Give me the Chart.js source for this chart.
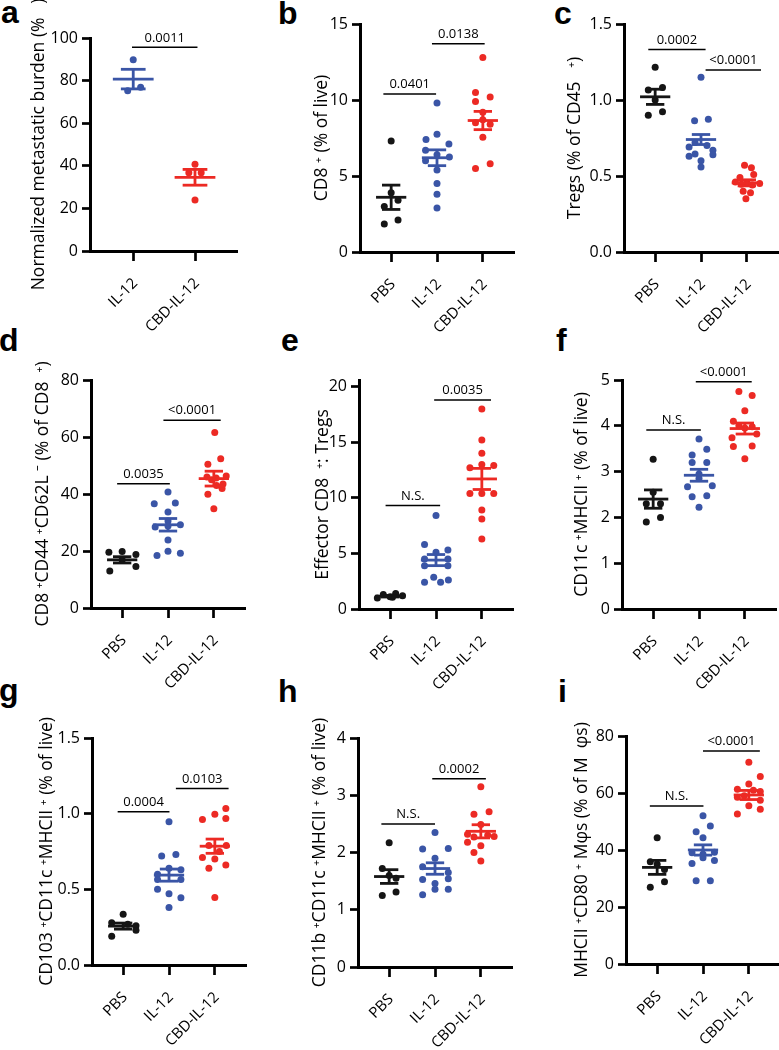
<!DOCTYPE html>
<html>
<head>
<meta charset="utf-8">
<script src="https://cdn.jsdelivr.net/npm/chart.js@4.4.1/dist/chart.umd.min.js"></script>
<style>
  html, body { margin: 0; padding: 0; background: #fff; width: 779px; height: 1050px; overflow: hidden; position: relative; }
  canvas { position: absolute; }
  .tag { position: absolute; font: bold 32px "Liberation Sans", Arial, sans-serif; line-height: 32px; color: #000; }
</style>
</head>
<body>
<div class="tag" style="left:1px;top:-4px">a</div>
<div class="tag" style="left:278px;top:-3px">b</div>
<div class="tag" style="left:554px;top:-3px">c</div>
<div class="tag" style="left:-1px;top:324px">d</div>
<div class="tag" style="left:281px;top:324px">e</div>
<div class="tag" style="left:556px;top:324px">f</div>
<div class="tag" style="left:-1px;top:674px">g</div>
<div class="tag" style="left:278px;top:675px">h</div>
<div class="tag" style="left:558px;top:675px">i</div>

<script>
// groups
const groups3 = ['PBS', 'IL-12', 'CBD-IL-12'];
const groups2 = ['IL-12', 'CBD-IL-12'];

// a - metastatic burden
const aTicks = [0, 20, 40, 60, 80, 100];
const aIL12 = [89.8, 76.9, 75.2];
const aIL12Jit = [0, 0.12, -0.09];
const aCBD = [40.7, 36.7, 36.7, 23.9];
const aCBDJit = [0, -0.1, 0.1, 0];
const aMean = [80.7, 34.6];
const aSem = [4.6, 3.7];
const aSig = [[0.98, 2.04, 95.6, '0.0011']];

// b - CD8+
const bTicks = [0, 5, 10, 15];
const bPBS = [7.3, 3.9, 3.4, 3.0, 2.1, 1.85];
const bPBSJit = [0, 0, 0.15, -0.15, 0.15, -0.15];
const bIL12 = [9.8, 7.75, 7.4, 7.1, 6.7, 6.4, 6.25, 6.0, 5.4, 4.5, 3.8, 2.9];
const bIL12Jit = [0, 0, -0.24, 0.26, -0.25, 0, 0.27, -0.25, 0, 0, 0, 0];
const bCBD = [12.8, 10.5, 10.2, 9.9, 9.2, 8.7, 8.5, 8.4, 7.55, 5.8, 5.5];
const bCBDJit = [0, -0.16, 0.16, -0.16, 0, 0, -0.16, 0.16, 0, 0.16, -0.16];
const bMean = [3.6, 6.2, 8.65];
const bSem = [0.8, 0.52, 0.6];
const bSig = [[0.83, 1.98, 10.4, '0.0401'], [1.89, 3.04, 13.7, '0.0138']];

// c - Tregs
const cTicks = [0, 0.5, 1, 1.5];
const cTickLabels = ['0.0', '0.5', '1.0', '1.5'];
const cPBS = [1.215, 1.083, 1.065, 1.0, 0.922, 0.9];
const cPBSJit = [0, 0.16, -0.15, 0, 0.16, -0.15];
const cIL12 = [1.15, 0.874, 0.863, 0.72, 0.70, 0.69, 0.67, 0.645, 0.64, 0.63, 0.6, 0.56];
const cIL12Jit = [0, 0.16, -0.14, -0.13, 0.13, -0.26, 0.26, -0.13, 0.26, -0.26, 0, 0];
const cCBD = [0.57, 0.555, 0.51, 0.49, 0.46, 0.455, 0.45, 0.445, 0.44, 0.40, 0.39, 0.35];
const cCBDJit = [-0.05, 0.1, 0.15, -0.15, -0.25, 0, 0.28, -0.12, 0.12, -0.08, 0.08, -0.02];
const cMean = [1.021, 0.74, 0.455];
const cSem = [0.05, 0.033, 0.02];
const cSig = [[0.85, 2.1, 1.333, '0.0002'], [2.1, 3.31, 1.197, '<0.0001']];

// d - effector CD8
const dTicks = [0, 20, 40, 60, 80];
const dPBS = [19.6, 19.8, 18.8, 16.8, 14.6, 13.0];
const dPBSJit = [-0.29, 0, 0.3, 0, 0.3, -0.27];
const dIL12 = [40.7, 36.6, 36.8, 33.7, 30.5, 29.2, 28.8, 28.4, 23.9, 19.9, 19.2, 18.4];
const dIL12Jit = [0, -0.3, 0.16, 0, 0, 0.27, 0, -0.28, 0, 0, 0.27, -0.24];
const dCBD = [61.6, 52.4, 50.4, 46.3, 46.0, 45.6, 45.0, 43.5, 43.0, 41.9, 39.9, 34.8];
const dCBDJit = [0.02, 0.15, -0.13, 0.27, -0.15, 0.05, -0.05, 0.2, 0.06, 0.18, -0.13, 0];
const dMean = [16.9, 29.2, 45.4];
const dSem = [1.1, 2.2, 2.6];
const dSig = [[0.89, 2.04, 43.6, '0.0035'], [1.9, 3.15, 65.9, '<0.0001']];

// e - effector CD8 : Tregs
const eTicks = [0, 5, 10, 15, 20];
const ePBS = [1.0, 1.3, 1.1, 1.4, 1.2, 1.05];
const ePBSJit = [-0.28, -0.15, 0, 0.12, 0.27, 0.05];
const eIL12 = [8.4, 5.8, 5.1, 5.3, 4.5, 4.5, 3.9, 3.9, 2.85, 2.4, 2.4, 2.6];
const eIL12Jit = [0, -0.25, 0, 0.26, -0.25, 0.26, -0.25, 0.26, -0.05, -0.25, 0.1, 0.27];
const eCBD = [18.0, 15.2, 14.0, 13.0, 12.9, 12.7, 10.4, 10.4, 10.4, 8.9, 8.1, 6.3];
const eCBDJit = [0, 0, 0, 0, 0.26, -0.26, -0.26, 0, 0.26, 0, 0, 0];
const eMean = [1.15, 4.4, 11.7];
const eSem = [0.07, 0.5, 0.95];
const eSig = [[0.9, 2.09, 9.3, 'N.S.'], [1.96, 3.2, 18.8, '0.0035']];

// f - CD11c+MHCII+
const fTicks = [0, 1, 2, 3, 4, 5];
const fPBS = [3.27, 2.55, 2.3, 2.3, 2.0, 1.9];
const fPBSJit = [0, 0, -0.15, 0.16, 0.16, -0.15];
const fIL12 = [3.71, 3.49, 3.36, 3.2, 3.2, 2.95, 2.85, 2.69, 2.67, 2.47, 2.45, 2.22];
const fIL12Jit = [0, 0.17, -0.15, -0.15, 0.17, 0, 0, 0.29, -0.25, 0.17, -0.15, 0];
const fCBD = [4.75, 4.66, 4.33, 4.1, 4.0, 3.98, 3.95, 3.82, 3.74, 3.56, 3.55, 3.28];
const fCBDJit = [-0.13, 0.16, 0, -0.25, -0.13, 0.16, 0, 0.26, -0.28, 0.16, -0.25, 0];
const fMean = [2.4, 2.92, 3.94];
const fSem = [0.2, 0.13, 0.12];
const fSig = [[0.85, 2.04, 3.91, 'N.S.'], [1.93, 3.15, 4.96, '<0.0001']];

// g - CD103+CD11c+MHCII+
const gTicks = [0, 0.5, 1, 1.5];
const gTickLabels = ['0.0', '0.5', '1.0', '1.5'];
const gPBS = [0.336, 0.28, 0.27, 0.26, 0.23, 0.19];
const gPBSJit = [0, -0.25, 0.1, 0.28, 0.28, -0.25];
const gIL12 = [0.946, 0.72, 0.73, 0.64, 0.63, 0.6, 0.565, 0.565, 0.5, 0.47, 0.444, 0.38];
const gIL12Jit = [0, -0.16, 0.15, 0, 0.26, -0.25, -0.25, 0.26, -0.25, 0, 0.26, 0];
const gCBD = [1.034, 0.996, 0.961, 0.968, 0.79, 0.79, 0.75, 0.71, 0.70, 0.66, 0.64, 0.446];
const gCBDJit = [0.24, 0, -0.27, 0.24, 0.25, -0.13, 0.1, -0.27, 0, 0.24, -0.13, 0];
const gMean = [0.257, 0.594, 0.785];
const gSem = [0.02, 0.04, 0.047];
const gSig = [[0.88, 2.01, 1.012, '0.0004'], [2.15, 3.3, 1.166, '0.0103']];

// h - CD11b+CD11c+MHCII+
const hTicks = [0, 1, 2, 3, 4];
const hPBS = [2.17, 1.72, 1.6, 1.55, 1.31, 1.25];
const hPBSJit = [0, -0.15, 0, 0.15, 0.15, -0.15];
const hIL12 = [2.35, 2.06, 2.07, 1.9, 1.75, 1.65, 1.54, 1.53, 1.46, 1.36, 1.36, 1.26];
const hIL12Jit = [0, -0.27, 0.29, 0, -0.27, 0.29, 0.29, -0.27, 0, 0, 0.29, -0.27];
const hCBD = [3.15, 2.67, 2.71, 2.49, 2.32, 2.28, 2.27, 2.3, 2.18, 2.12, 2.0, 1.85];
const hCBDJit = [0, -0.15, 0.18, 0, -0.29, 0.29, -0.15, 0.15, -0.29, 0, -0.15, 0];
const hMean = [1.58, 1.72, 2.37];
const hSem = [0.12, 0.1, 0.115];
const hSig = [[0.83, 2.0, 2.5, 'N.S.'], [1.94, 3.11, 3.29, '0.0002']];

// i - MHCII+CD80+ macrophages
const iTicks = [0, 20, 40, 60, 80];
const iPBS = [44.3, 35.9, 35.0, 33.2, 28.9, 26.9];
const iPBSJit = [0, -0.15, 0, 0.16, 0.16, -0.15];
const iIL12 = [52.0, 48.4, 46.4, 44.3, 39.0, 39.2, 38.5, 37.3, 36.3, 35.3, 29.2, 29.2];
const iIL12Jit = [0, 0.16, -0.15, 0, -0.24, 0.25, 0, 0, 0.25, -0.24, -0.15, 0.16];
const iCBD = [70.8, 65.8, 63.2, 61.3, 61.0, 60.5, 59.0, 58.5, 57.5, 55.5, 54.3, 52.6];
const iCBDJit = [0, 0.25, 0, -0.25, 0.1, 0.25, -0.1, -0.25, 0.25, 0, 0.25, -0.25];
const iMean = [33.9, 40.0, 59.3];
const iSem = [2.45, 1.8, 1.6];
const iSig = [[0.84, 2.01, 55.4, 'N.S.'], [2.0, 3.24, 74.7, '<0.0001']];

const BLACK = '#151515', BLUE = '#3a55a6', RED = '#ec2a24';
const FONT = '"Open Sans", "Noto Sans", "DejaVu Sans", sans-serif';

const panels = [
  { x0: 90, top: 38, bottom: 251, w: 147, xMin: 0.3, xMax: 2.68, max: 100, ticks: aTicks, cats: groups2,
    title: 'Normalized metastatic burden (%   )', titleX: 39,
    groups: [[aIL12, aIL12Jit, BLUE], [aCBD, aCBDJit, RED]], means: aMean, sems: aSem, sig: aSig },
  { x0: 360, top: 24, bottom: 252, w: 154, max: 15, ticks: bTicks, cats: groups3,
    title: 'CD8 \u207A (% of live)', titleX: 322,
    groups: [[bPBS, bPBSJit, BLACK], [bIL12, bIL12Jit, BLUE], [bCBD, bCBDJit, RED]], means: bMean, sems: bSem, sig: bSig },
  { x0: 624, top: 24, bottom: 252, w: 154, max: 1.5, ticks: cTicks, labels: cTickLabels, cats: groups3,
    title: 'Tregs (% of CD45   \u207A)', titleX: 575,
    groups: [[cPBS, cPBSJit, BLACK], [cIL12, cIL12Jit, BLUE], [cCBD, cCBDJit, RED]], means: cMean, sems: cSem, sig: cSig },
  { x0: 91, top: 380, bottom: 608, w: 154, max: 80, ticks: dTicks, cats: groups3,
    title: 'CD8 \u207ACD44 \u207ACD62L \u207B (% of CD8  \u207A)', titleX: 43,
    groups: [[dPBS, dPBSJit, BLACK], [dIL12, dIL12Jit, BLUE], [dCBD, dCBDJit, RED]], means: dMean, sems: dSem, sig: dSig },
  { x0: 359, top: 380, bottom: 609, w: 154, max: 20.6, ticks: eTicks, cats: groups3,
    title: 'Effector CD8  \u207A: Tregs', titleX: 323,
    groups: [[ePBS, ePBSJit, BLACK], [eIL12, eIL12Jit, BLUE], [eCBD, eCBDJit, RED]], means: eMean, sems: eSem, sig: eSig },
  { x0: 622, top: 380, bottom: 609, w: 154, max: 5, ticks: fTicks, cats: groups3,
    title: 'CD11c \u207AMHCII \u207A (% of live)', titleX: 582,
    groups: [[fPBS, fPBSJit, BLACK], [fIL12, fIL12Jit, BLUE], [fCBD, fCBDJit, RED]], means: fMean, sems: fSem, sig: fSig },
  { x0: 92, top: 738, bottom: 965, w: 154, max: 1.5, ticks: gTicks, labels: gTickLabels, cats: groups3,
    title: 'CD103 \u207ACD11c \u207AMHCII \u207A (% of live)', titleX: 47,
    groups: [[gPBS, gPBSJit, BLACK], [gIL12, gIL12Jit, BLUE], [gCBD, gCBDJit, RED]], means: gMean, sems: gSem, sig: gSig },
  { x0: 358, top: 738, bottom: 967, w: 154, max: 4, ticks: hTicks, cats: groups3,
    title: 'CD11b \u207ACD11c \u207AMHCII \u207A (% of live)', titleX: 320,
    groups: [[hPBS, hPBSJit, BLACK], [hIL12, hIL12Jit, BLUE], [hCBD, hCBDJit, RED]], means: hMean, sems: hSem, sig: hSig },
  { x0: 626, top: 736, bottom: 964, w: 154, max: 80, ticks: iTicks, cats: groups3,
    title: 'MHCII \u207ACD80 \u207A M\u03C6s (% of M  \u03C6s)', titleX: 582,
    groups: [[iPBS, iPBSJit, BLACK], [iIL12, iIL12Jit, BLUE], [iCBD, iCBDJit, RED]], means: iMean, sems: iSem, sig: iSig }
];

// mean/SEM bars, significance brackets, y title, slanted group labels
function overlayFor(p) {
  return {
    id: 'overlay',
    afterDatasetsDraw(chart) {
      const { ctx } = chart;
      const x = chart.scales.x, y = chart.scales.y;
      const seg = (x1, y1, x2, y2) => {
        ctx.beginPath();
        ctx.moveTo(x.getPixelForValue(x1), y.getPixelForValue(y1));
        ctx.lineTo(x.getPixelForValue(x2), y.getPixelForValue(y2));
        ctx.stroke();
      };
      ctx.save();
      ctx.lineWidth = 2.8;
      p.means.forEach((m, i) => {
        const c = i + 1, s = p.sems[i];
        ctx.strokeStyle = p.groups[i][2];
        seg(c - 0.33, m, c + 0.33, m);
        seg(c - 0.2, m + s, c + 0.2, m + s);
        seg(c - 0.2, m - s, c + 0.2, m - s);
        seg(c, m - s, c, m + s);
      });
      ctx.strokeStyle = '#000';
      ctx.fillStyle = '#000';
      ctx.lineWidth = 1.5;
      ctx.font = '13px ' + FONT;
      ctx.textAlign = 'center';
      ctx.textBaseline = 'bottom';
      p.sig.forEach(([x1, x2, v, label]) => {
        seg(x1, v, x2, v);
        ctx.fillText(label, x.getPixelForValue((x1 + x2) / 2), y.getPixelForValue(v) - 3);
      });
      ctx.restore();
    },
    afterDraw(chart) {
      const { ctx, chartArea } = chart;
      const x = chart.scales.x, y = chart.scales.y;
      ctx.save();
      ctx.fillStyle = '#000';
      ctx.translate(chartArea.left - (p.x0 - p.titleX), (chartArea.top + chartArea.bottom) / 2);
      ctx.rotate(-Math.PI / 2);
      ctx.font = '17.5px ' + FONT;
      ctx.textAlign = 'center';
      ctx.textBaseline = 'middle';
      ctx.fillText(p.title, 0, 0);
      ctx.restore();

      ctx.save();
      ctx.fillStyle = '#000';
      ctx.font = '15px ' + FONT;
      ctx.textAlign = 'right';
      ctx.textBaseline = 'alphabetic';
      const base = y.getPixelForValue(0);
      p.cats.forEach((c, i) => {
        ctx.save();
        ctx.translate(x.getPixelForValue(i + 1) + 5, base + 33);
        ctx.rotate(-Math.PI / 4);
        ctx.fillText(c, 0, 0);
        ctx.restore();
      });
      ctx.restore();
    }
  };
}

panels.forEach(p => {
  const left = p.x0 - 90, top = p.top - 40;
  const canvas = document.createElement('canvas');
  canvas.width = p.w + 96;
  canvas.height = p.bottom - top + 90;
  canvas.style.left = left + 'px';
  canvas.style.top = top + 'px';
  document.body.appendChild(canvas);

  new Chart(canvas, {
    type: 'scatter',
    data: {
      datasets: p.groups.map(([vals, jit, color], gi) => ({
        data: vals.map((v, k) => ({ x: gi + 1 + jit[k], y: v })),
        pointRadius: 3.5,
        pointHoverRadius: 3.5,
        pointBackgroundColor: color,
        pointBorderWidth: 0
      }))
    },
    options: {
      responsive: false,
      animation: false,
      events: [],
      layout: { padding: { left: 0, top: 40, right: 6, bottom: 0 } },
      plugins: { legend: { display: false }, tooltip: { enabled: false } },
      scales: {
        x: {
          type: 'linear',
          min: p.xMin || 0.32,
          max: p.xMax || 3.68,
          afterBuildTicks: s => { s.ticks = p.cats.map((c, i) => ({ value: i + 1 })); },
          afterFit: s => { s.height = 90; },
          ticks: { display: false },
          grid: { drawOnChartArea: false, drawTicks: true, tickLength: 10, tickWidth: 2.7, tickColor: '#000' },
          border: { color: '#000', width: 3 }
        },
        y: {
          min: 0,
          max: p.max,
          afterBuildTicks: s => { s.ticks = p.ticks.map(v => ({ value: v })); },
          afterFit: s => { s.width = 90; },
          ticks: {
            callback: (v, i) => p.labels ? p.labels[i] : String(p.ticks[i]),
            padding: 4,
            color: '#000',
            font: { family: FONT, size: 16 }
          },
          grid: { drawOnChartArea: false, drawTicks: true, tickLength: 8, tickWidth: 2.7, tickColor: '#000' },
          border: { color: '#000', width: 3 }
        }
      }
    },
    plugins: [overlayFor(p)]
  });
});
</script>
</body>
</html>
